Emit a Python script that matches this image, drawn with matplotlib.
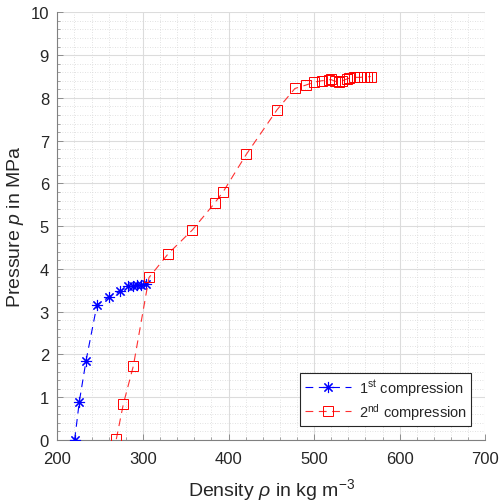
import matplotlib
matplotlib.use("Agg")
import matplotlib.pyplot as plt
from matplotlib.ticker import MultipleLocator

plt.rcParams['font.family'] = ['Liberation Sans', 'DejaVu Sans']
plt.rcParams['mathtext.fontset'] = 'custom'
plt.rcParams['mathtext.rm'] = 'Liberation Sans'
plt.rcParams['mathtext.it'] = 'Liberation Sans:italic'
plt.rcParams['mathtext.bf'] = 'Liberation Sans:bold'

# 1st compression
rho1 = [220.2, 225.7, 233.5, 246.3, 260.4, 273.6, 282.2, 288.0, 293.0, 298.0, 303.2]
p1 = [0.00, 0.90, 1.85, 3.16, 3.35, 3.48, 3.59, 3.60, 3.62, 3.63, 3.64]

# 2nd compression
rho2 = [268.9, 277.1, 288.8, 307.1, 329.7, 357.7, 383.8, 393.9, 420.8, 456.6,
        477.6, 490.5, 500.2, 508.8, 516.9, 519.5, 524.0, 529.0, 533.0, 538.0,
        541.0, 546.0, 550.0, 554.0, 558.0, 562.0, 566.0]
p2 = [0.02, 0.84, 1.73, 3.80, 4.36, 4.91, 5.54, 5.81, 6.68, 7.72,
      8.22, 8.30, 8.37, 8.40, 8.42, 8.43, 8.39, 8.38, 8.40, 8.44,
      8.46, 8.48, 8.48, 8.48, 8.49, 8.49, 8.50]

labels = ['1$^{\\mathrm{st}}$ compression', '2$^{\\mathrm{nd}}$ compression']

fig = plt.figure(figsize=(4.99, 5.02), dpi=100)
ax = fig.add_axes([0.1149, 0.1215, 0.8577, 0.8519])

dash = (0, (7, 5))
ax.plot(rho1, p1, linestyle=dash, color='#0000ff', linewidth=0.8,
        marker=(8, 2, 0), markersize=8, markeredgewidth=0.8, label=labels[0], zorder=3)
ax.plot(rho2, p2, linestyle=dash, color='#ff3030', linewidth=0.8,
        marker='s', markersize=7, markerfacecolor='none', markeredgewidth=0.7,
        markeredgecolor='#ff0000', label=labels[1], zorder=3)

ax.set_xlim(200, 700)
ax.set_ylim(0, 10)
ax.xaxis.set_major_locator(MultipleLocator(100))
ax.xaxis.set_minor_locator(MultipleLocator(20))
ax.yaxis.set_major_locator(MultipleLocator(1))
ax.yaxis.set_minor_locator(MultipleLocator(0.2))

ax.grid(which='major', color='#dcdcdc', linewidth=0.8, linestyle='-')
ax.grid(which='minor', color='#d8d8d8', linewidth=0.6, linestyle=(0, (1, 2)))
ax.set_axisbelow(True)

axcol = '#262626'
for s in ['top', 'right']:
    ax.spines[s].set_visible(False)
for s in ['left', 'bottom']:
    ax.spines[s].set_color('#808080')
    ax.spines[s].set_linewidth(0.8)

ax.tick_params(which='major', direction='in', length=4, width=0.6, colors='#808080',
               labelcolor=axcol, labelsize=12)
ax.tick_params(axis='x', which='major', pad=8)
ax.tick_params(axis='y', which='major', pad=6)
ax.tick_params(which='minor', direction='in', length=2, width=0.5, colors='#808080')

ax.set_xlabel('Density $\\rho$ in kg m$^{-3}$', fontsize=14, color=axcol, labelpad=7)
ax.set_ylabel('Pressure $p$ in MPa', fontsize=14, color=axcol, labelpad=3)

leg = ax.legend(loc='lower right', bbox_to_anchor=(0.967, 0.033), fontsize=10.5,
                fancybox=False, framealpha=1, edgecolor='#262626',
                handlelength=3.2, handletextpad=0.5, borderpad=0.3,
                labelspacing=0.2, borderaxespad=0)
leg.get_frame().set_linewidth(0.8)
for t in leg.get_texts():
    t.set_color(axcol)

fig.savefig('out.png', dpi=100)
